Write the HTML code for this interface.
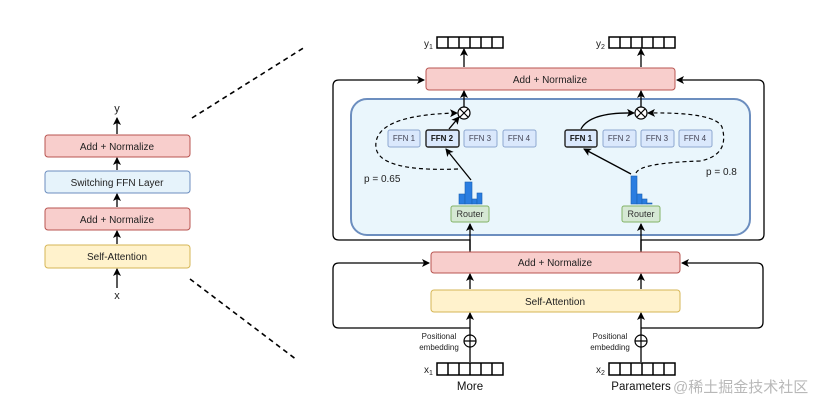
<!DOCTYPE html>
<html><head><meta charset="utf-8"><style>
html,body{margin:0;padding:0;background:#fff;}
svg{display:block;font-family:"Liberation Sans",sans-serif;}
</style></head><body>
<svg width="831" height="413" viewBox="0 0 831 413" xmlns="http://www.w3.org/2000/svg">
<defs>
<marker id="a" markerWidth="8" markerHeight="8" refX="7" refY="4" orient="auto" markerUnits="userSpaceOnUse"><path d="M0,0 L8,4 L0,8 L2,4 z" fill="#000"/></marker>
</defs>
<rect width="831" height="413" fill="#fff"/>
<g font-size="10" text-anchor="middle" fill="#222">
<rect x="45" y="135" width="145" height="22" rx="3" fill="#f8cecc" stroke="#b85450"/>
<text x="117" y="150">Add + Normalize</text>
<rect x="45" y="171" width="145" height="22" rx="3" fill="#e6f3fb" stroke="#6c8ebf"/>
<text x="117" y="186">Switching FFN Layer</text>
<rect x="45" y="208" width="145" height="22" rx="3" fill="#f8cecc" stroke="#b85450"/>
<text x="117" y="223">Add + Normalize</text>
<rect x="45" y="245" width="145" height="23" rx="3" fill="#fff2cc" stroke="#d6b656"/>
<text x="117" y="260">Self-Attention</text>
<text x="117" y="112" font-size="11">y</text>
<text x="117" y="299" font-size="11">x</text>
</g>
<g stroke="#000" stroke-width="1.3" fill="none" marker-end="url(#a)">
<line x1="117" y1="134" x2="117" y2="118"/>
<line x1="117" y1="170" x2="117" y2="158"/>
<line x1="117" y1="207" x2="117" y2="194"/>
<line x1="117" y1="244" x2="117" y2="231"/>
<line x1="117" y1="288" x2="117" y2="269"/>
</g>
<g stroke="#000" stroke-width="1.6" stroke-dasharray="5,4">
<line x1="192" y1="118" x2="305" y2="47"/>
<line x1="190" y1="279" x2="297" y2="360"/>
</g>
<g stroke="#000" stroke-width="1.3" fill="none">
<path d="M470,252 L470,240 L339,240 Q333,240 333,234 L333,86 Q333,80 339,80 L424,80" marker-end="url(#a)"/>
<path d="M641,252 L641,240 L758,240 Q764,240 764,234 L764,86 Q764,80 758,80 L677,80" marker-end="url(#a)"/>
<path d="M470,328 L339,328 Q333,328 333,322 L333,269 Q333,263 339,263 L429,263" marker-end="url(#a)"/>
<path d="M641,328 L757,328 Q763,328 763,322 L763,269 Q763,263 757,263 L682,263" marker-end="url(#a)"/>
</g>
<rect x="351" y="99" width="399" height="136" rx="16" fill="#eaf6fc" stroke="#6c8ebf" stroke-width="2"/>
<rect x="426" y="68" width="249" height="22" rx="3" fill="#f8cecc" stroke="#b85450"/>
<text x="550" y="83" font-size="10" text-anchor="middle" fill="#222">Add + Normalize</text>
<g fill="#fff" stroke="#000" stroke-width="1.5">
<rect x="437" y="37" width="66" height="11"/>
<rect x="609" y="37" width="66" height="11"/>
<rect x="437" y="363" width="66" height="12"/>
<rect x="609" y="363" width="66" height="12"/>
</g>
<g stroke="#000" stroke-width="1.5">
<path d="M448,37v11M459,37v11M470,37v11M481,37v11M492,37v11"/>
<path d="M620,37v11M631,37v11M642,37v11M653,37v11M664,37v11"/>
<path d="M448,363v12M459,363v12M470,363v12M481,363v12M492,363v12"/>
<path d="M620,363v12M631,363v12M642,363v12M653,363v12M664,363v12"/>
</g>
<g font-size="10" fill="#222">
<text x="424" y="47">y<tspan font-size="7" dy="2">1</tspan></text>
<text x="596" y="47">y<tspan font-size="7" dy="2">2</tspan></text>
<text x="424" y="373">x<tspan font-size="7" dy="2">1</tspan></text>
<text x="596" y="373">x<tspan font-size="7" dy="2">2</tspan></text>
</g>
<g stroke="#000" stroke-width="1.3" fill="none" marker-end="url(#a)">
<line x1="464" y1="67" x2="464" y2="49"/>
<line x1="641" y1="67" x2="641" y2="49"/>
<line x1="464" y1="107" x2="464" y2="91"/>
<line x1="641" y1="107" x2="641" y2="91"/>
<line x1="470" y1="250" x2="470" y2="224"/>
<line x1="641" y1="250" x2="641" y2="224"/>
<line x1="470" y1="289" x2="470" y2="274"/>
<line x1="641" y1="289" x2="641" y2="274"/>
<line x1="470" y1="362" x2="470" y2="313"/>
<line x1="641" y1="362" x2="641" y2="313"/>
<line x1="471" y1="180" x2="446" y2="149"/>
<line x1="631" y1="174" x2="584" y2="149"/>
<line x1="449" y1="129" x2="459" y2="117"/>
<path d="M581,129 Q590,112 634,113"/>
</g>
<g stroke="#000" stroke-width="1.2" fill="none" stroke-dasharray="4,3" marker-end="url(#a)">
<path d="M458,169 Q380,172 376,148 Q372,115 457,113"/>
<path d="M636,173 Q640,163 700,161 Q730,155 722,127 Q715,112 648,113"/>
</g>
<g stroke="#000" stroke-width="1.2" fill="#fff">
<circle cx="464" cy="113" r="6"/><circle cx="641" cy="113" r="6"/>
<circle cx="470" cy="341" r="6"/><circle cx="641" cy="341" r="6"/>
</g>
<g stroke="#000" stroke-width="1.2">
<path d="M460,109l8,8M468,109l-8,8M637,109l8,8M645,109l-8,8"/>
<path d="M464,341h12M635,341h12M470,335v12M641,335v12"/>
</g>
<g font-size="8" text-anchor="middle" fill="#445">
<rect x="388" y="130" width="32" height="17" rx="2" fill="#dae8fc" stroke="#8ea8d0"/><text x="404" y="141">FFN 1</text>
<rect x="426" y="130" width="33" height="17" rx="2" fill="#dae8fc" stroke="#222" stroke-width="1.4"/><text x="442" y="141" font-weight="bold" fill="#111">FFN 2</text>
<rect x="464" y="130" width="33" height="17" rx="2" fill="#dae8fc" stroke="#8ea8d0"/><text x="480" y="141">FFN 3</text>
<rect x="503" y="130" width="33" height="17" rx="2" fill="#dae8fc" stroke="#8ea8d0"/><text x="519" y="141">FFN 4</text>
<rect x="565" y="130" width="32" height="17" rx="2" fill="#dae8fc" stroke="#222" stroke-width="1.4"/><text x="581" y="141" font-weight="bold" fill="#111">FFN 1</text>
<rect x="603" y="130" width="33" height="17" rx="2" fill="#dae8fc" stroke="#8ea8d0"/><text x="619" y="141">FFN 2</text>
<rect x="641" y="130" width="33" height="17" rx="2" fill="#dae8fc" stroke="#8ea8d0"/><text x="657" y="141">FFN 3</text>
<rect x="679" y="130" width="33" height="17" rx="2" fill="#dae8fc" stroke="#8ea8d0"/><text x="695" y="141">FFN 4</text>
</g>
<g fill="#2a7de1" stroke="#1a5fb0" stroke-width="0.6">
<rect x="459" y="194" width="6" height="10"/><rect x="465" y="182" width="7" height="22"/><rect x="472" y="199" width="5" height="5"/><rect x="477" y="193" width="5" height="11"/>
<rect x="631" y="176" width="6" height="28"/><rect x="637" y="194" width="5" height="10"/><rect x="642" y="199" width="5" height="5"/><rect x="647" y="203" width="5" height="1"/>
</g>
<g font-size="9" text-anchor="middle" fill="#333">
<rect x="451" y="206" width="38" height="16" rx="2" fill="#d5e8d4" stroke="#82b366"/><text x="470" y="217">Router</text>
<rect x="622" y="206" width="38" height="16" rx="2" fill="#d5e8d4" stroke="#82b366"/><text x="641" y="217">Router</text>
</g>
<text x="364" y="182" font-size="10" fill="#222">p = 0.65</text>
<text x="706" y="175" font-size="10" fill="#222">p = 0.8</text>
<rect x="431" y="252" width="249" height="21" rx="3" fill="#f8cecc" stroke="#b85450"/>
<text x="555" y="266" font-size="10" text-anchor="middle" fill="#222">Add + Normalize</text>
<rect x="431" y="290" width="249" height="22" rx="3" fill="#fff2cc" stroke="#d6b656"/>
<text x="555" y="305" font-size="10" text-anchor="middle" fill="#222">Self-Attention</text>
<g font-size="8" text-anchor="middle" fill="#222">
<text x="439" y="339">Positional</text><text x="439" y="350">embedding</text>
<text x="610" y="339">Positional</text><text x="610" y="350">embedding</text>
</g>
<text x="470" y="390" font-size="11.5" text-anchor="middle" fill="#111">More</text>
<text x="641" y="390" font-size="11.5" text-anchor="middle" fill="#111">Parameters</text>
<text x="673" y="392" font-size="15" fill="#b8b8b8" font-family="'Liberation Sans','Noto Sans CJK SC',sans-serif">@稀土掘金技术社区</text>
</svg>
</body></html>
